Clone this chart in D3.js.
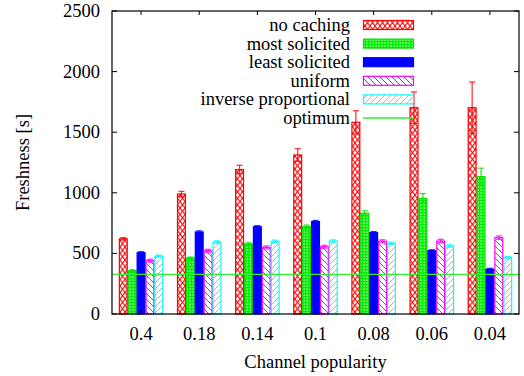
<!DOCTYPE html>
<html><head><meta charset="utf-8">
<script src="https://cdn.jsdelivr.net/npm/d3@7"></script>
<style>body{margin:0;background:#fff}svg{display:block}</style>
</head><body><svg id="c" width="524" height="376"></svg>
<script>
const categories = ["0.4","0.18","0.14","0.1","0.08","0.06","0.04"];
const seriesNames = ["no caching","most solicited","least solicited","uniform","inverse proportional"];
const noCaching      = [620, 990, 1192, 1312, 1582, 1702, 1702];
const noCachingErr   = [10, 22, 35, 52, 95, 130, 212];
const mostSolicited  = [357, 462, 578, 720, 831, 954, 1133];
const mostSolicitedErr = [8, 8, 10, 14, 20, 40, 70];
const leastSolicited = [506, 677, 720, 762, 671, 522, 369];
const leastSolicitedErr = [8, 9, 9, 10, 9, 8, 8];
const uniform        = [440, 522, 550, 555, 600, 602, 630];
const uniformErr     = [12, 12, 12, 12, 12, 14, 14];
const inverseProp    = [478, 594, 600, 602, 583, 561, 465];
const inversePropErr = [8, 10, 10, 10, 10, 10, 10];
const optimum = 327;
const yTicks = [0, 500, 1000, 1500, 2000, 2500];

const seriesVals = [noCaching, mostSolicited, leastSolicited, uniform, inverseProp];
const seriesErrs = [noCachingErr, mostSolicitedErr, leastSolicitedErr, uniformErr, inversePropErr];
const colors = ["#ff0000","#00e000","#0000ff","#ff00ff","#00ffff"];
const fills = ["url(#pCross)","url(#pCheck)","#0000ff","url(#pBack)","url(#pFwd)"];

const svg = d3.select("#c");
const L=112, R=519, T=11, B=314;
const x0 = d3.scaleBand().domain(categories).range([L,R]).padding(0);
const x1 = d3.scaleBand().domain(seriesNames).range([0,x0.bandwidth()]).paddingInner(0).paddingOuter(0.77);
const y = d3.scaleLinear().domain([0,2500]).range([B,T]);

// text layer first
const textLayer = svg.append("g");
function txt(xx,yy,s,anchor){
  return textLayer.append("text").attr("x",xx).attr("y",yy).attr("text-anchor",anchor)
   .style("font-family",'"Liberation Serif"').attr("font-size",18.5).text(s);
}

const defs = svg.append("defs");
let p = defs.append("pattern").attr("id","pCross").attr("patternUnits","userSpaceOnUse").attr("width",5).attr("height",6.5);
p.append("rect").attr("width",5).attr("height",6.5).attr("fill","#fff");
p.append("path").attr("d","M0,0L5,6.5M5,0L0,6.5").attr("stroke","#ff0000").attr("stroke-width",1);
p = defs.append("pattern").attr("id","pCheck").attr("patternUnits","userSpaceOnUse").attr("width",3).attr("height",3);
p.append("rect").attr("width",3).attr("height",3).attr("fill","#00ee00");
p.append("rect").attr("x",0.5).attr("y",0.5).attr("width",1.2).attr("height",1.2).attr("fill","#fff");
p = defs.append("pattern").attr("id","pBack").attr("patternUnits","userSpaceOnUse").attr("width",6).attr("height",6);
p.append("rect").attr("width",6).attr("height",6).attr("fill","#fff");
p.append("path").attr("d","M-3,0L3,6M0,-3L9,6M3,0L9,6M-3,3L0,6").attr("stroke","#ff00ff").attr("stroke-width",1);
p = defs.append("pattern").attr("id","pFwd").attr("patternUnits","userSpaceOnUse").attr("width",6).attr("height",6);
p.append("rect").attr("width",6).attr("height",6).attr("fill","#fff");
p.append("path").attr("d","M0,6L6,0M-3,3L3,-3M3,9L9,3").attr("stroke","#00ffff").attr("stroke-width",1);

seriesNames.forEach((s,si)=>{
  const g = svg.append("g");
  categories.forEach((c,ci)=>{
    const v = seriesVals[si][ci];
    const bx = x0(c)+x1(s);
    g.append("rect").attr("x",bx+0.5).attr("y",y(v)).attr("width",x1.bandwidth()-1).attr("height",B-y(v))
      .attr("fill",fills[si]).attr("stroke",colors[si]).attr("stroke-width",1.2);
  });
});
seriesNames.forEach((s,si)=>{
  categories.forEach((c,ci)=>{
    const v = seriesVals[si][ci], e = seriesErrs[si][ci];
    const cx = x0(c)+x1(s)+x1.bandwidth()/2;
    const g = svg.append("g").attr("stroke",colors[si]).attr("stroke-width",1.2).attr("opacity",0.85);
    g.append("line").attr("x1",cx).attr("x2",cx).attr("y1",y(v-e)).attr("y2",y(v+e));
    g.append("line").attr("x1",cx-3).attr("x2",cx+3).attr("y1",y(v-e)).attr("y2",y(v-e));
    g.append("line").attr("x1",cx-3).attr("x2",cx+3).attr("y1",y(v+e)).attr("y2",y(v+e));
  });
});
svg.append("line").attr("x1",L).attr("x2",R).attr("y1",y(optimum)).attr("y2",y(optimum)).attr("stroke","#33ee33").attr("stroke-width",1.3);

svg.append("rect").attr("x",L).attr("y",T).attr("width",R-L).attr("height",B-T).attr("fill","none").attr("stroke","#000").attr("stroke-width",1.2);
const tk = svg.append("g").attr("stroke","#000").attr("stroke-width",1);
yTicks.forEach(t=>{
  tk.append("line").attr("x1",L).attr("x2",L+5).attr("y1",y(t)).attr("y2",y(t));
  tk.append("line").attr("x1",R).attr("x2",R-5).attr("y1",y(t)).attr("y2",y(t));
  txt(L-12,y(t)+6,String(t),"end");
});
categories.forEach(c=>{
  const cx = x0(c)+x0.bandwidth()/2;
  tk.append("line").attr("x1",cx).attr("x2",cx).attr("y1",T).attr("y2",T+4);
  tk.append("line").attr("x1",cx).attr("x2",cx).attr("y1",B).attr("y2",B-4);
  txt(cx,340,c,"middle");
});
txt((L+R)/2,368,"Channel popularity","middle");
txt(0,0,"Freshness [s]","middle").attr("transform",`translate(29,${(T+B)/2}) rotate(-90)`);

const legendNames = seriesNames.concat(["optimum"]);
const legendLayer = svg.append("g");
legendNames.forEach((n,i)=>{
  const ly = 25 + i*18.6;
  txt(350,ly+6,n,"end");
  if(i<5){
    legendLayer.append("rect").attr("x",363.5).attr("y",ly-4.5).attr("width",50).attr("height",9)
      .attr("fill",fills[i]).attr("stroke",colors[i]).attr("stroke-width",1.2);
  } else {
    legendLayer.append("line").attr("x1",363).attr("x2",414).attr("y1",ly).attr("y2",ly).attr("stroke","#33ee33").attr("stroke-width",1.3);
  }
});
// keep text above bars
textLayer.raise();
</script></body></html>
